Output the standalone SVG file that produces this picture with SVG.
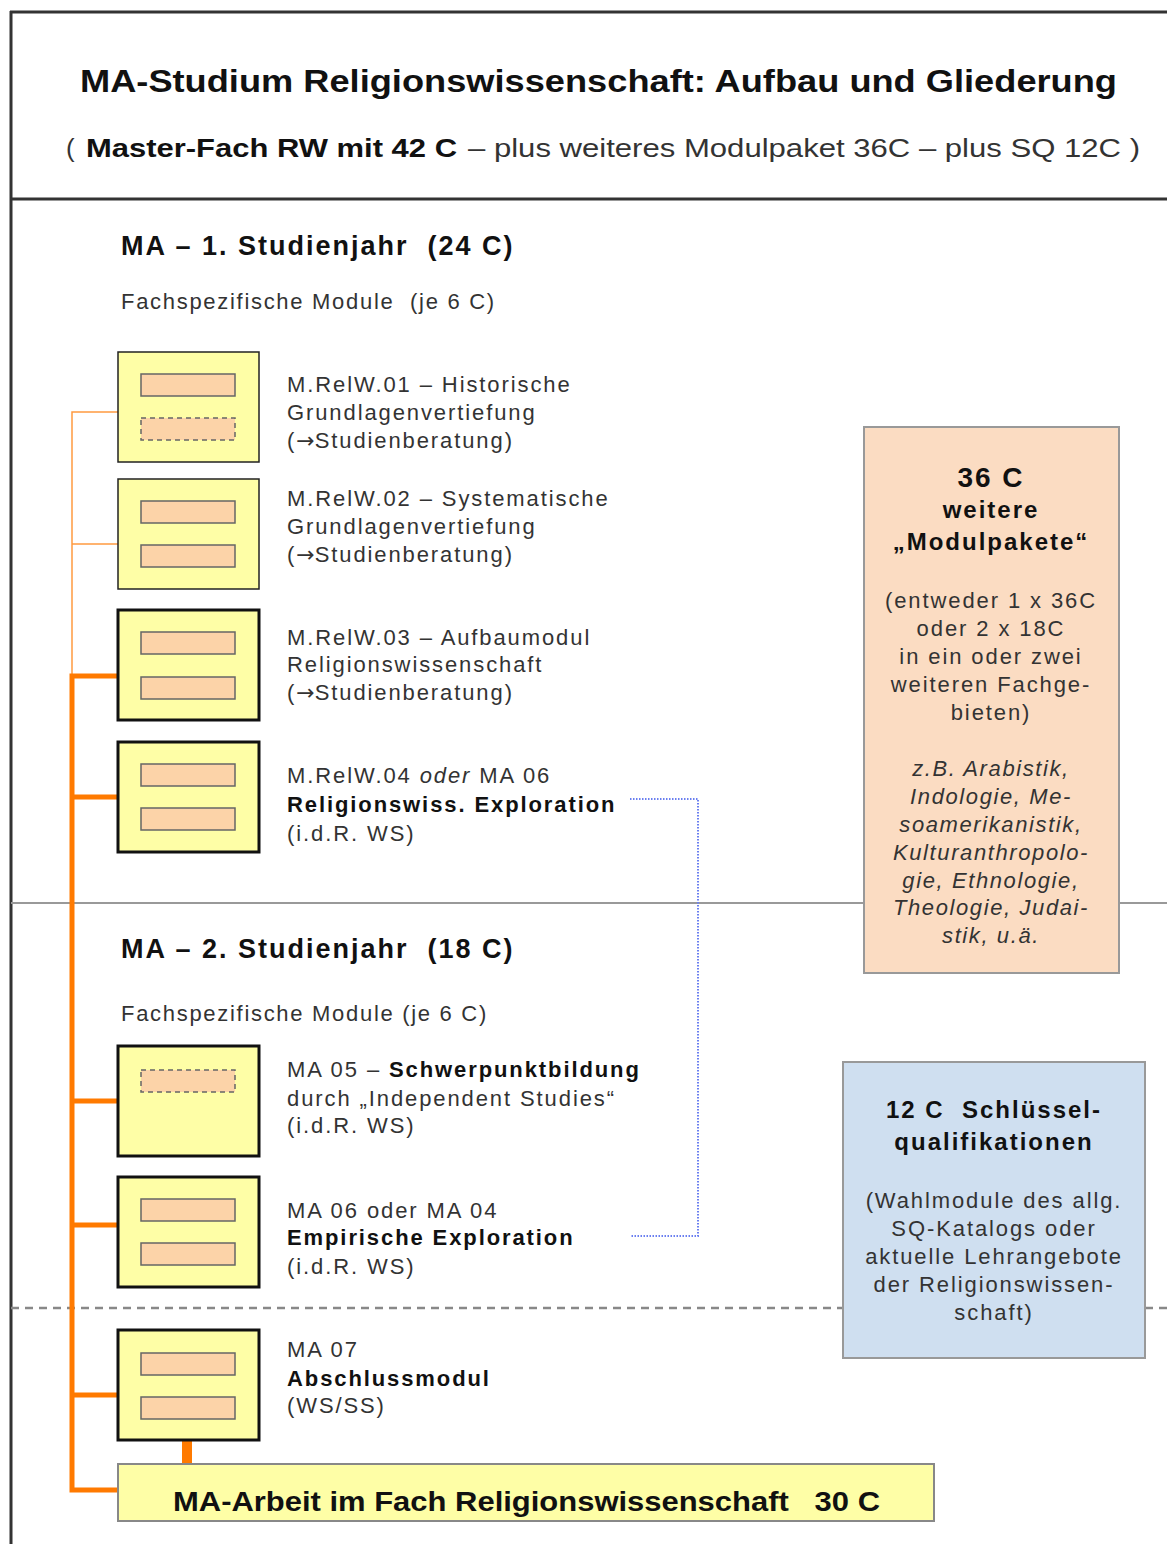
<svg xmlns="http://www.w3.org/2000/svg" width="1167" height="1544" viewBox="0 0 1167 1544">
<style>
text{font-family:"Liberation Sans",Arial,sans-serif;fill:#333}
.b{font-weight:bold;fill:#111}
.h{font-size:31px;font-weight:bold;fill:#111}
.m{font-size:22px;letter-spacing:1.9px}
.s{font-size:27px;letter-spacing:2px}
.f{font-size:22px;letter-spacing:1.7px}
.bx{font-size:22px;letter-spacing:1.9px}
.bi{font-size:22px;letter-spacing:1.6px;font-style:italic}
.bb{font-size:24px;letter-spacing:2px;font-weight:bold;fill:#111}
.ar{font-family:"DejaVu Sans",sans-serif;letter-spacing:0}
.mod{fill:#fefea6;stroke:#222;stroke-width:1.5}
.modk{fill:#fefea6;stroke:#111;stroke-width:3}
.in{fill:#fcd3a8;stroke:#666;stroke-width:1.5}
.ind{fill:#fcd3a8;stroke:#666;stroke-width:1.5;stroke-dasharray:5 4}
.c{text-anchor:middle}
</style>
<rect width="1167" height="1544" fill="#fff"/>
<g id="frame">
<line x1="10" y1="12" x2="1167" y2="12" stroke="#333" stroke-width="3"/>
<line x1="11" y1="11" x2="11" y2="1544" stroke="#333" stroke-width="3"/>
<line x1="10" y1="199" x2="1167" y2="199" stroke="#333" stroke-width="3"/>
<line x1="11" y1="903" x2="1167" y2="903" stroke="#999" stroke-width="2"/>
<line x1="11" y1="1308" x2="1167" y2="1308" stroke="#888" stroke-width="2.5" stroke-dasharray="8 6"/>
</g>
<g id="header">
<text x="80" y="92" class="h" textLength="1037" lengthAdjust="spacingAndGlyphs">MA-Studium Religionswissenschaft: Aufbau und Gliederung</text>
<text x="66" y="157" style="font-size:26px">(</text>
<text x="86" y="157" class="b" style="font-size:26px" textLength="371" lengthAdjust="spacingAndGlyphs">Master-Fach RW mit 42 C</text>
<text x="468" y="157" style="font-size:26px" textLength="672" lengthAdjust="spacingAndGlyphs">– plus weiteres Modulpaket 36C – plus SQ 12C )</text>
</g>
<g id="sec1">
<text x="121" y="255" class="b s" xml:space="preserve">MA – 1. Studienjahr  (24 C)</text>
<text x="121" y="309" class="f" xml:space="preserve">Fachspezifische Module  (je 6 C)</text>
</g>
<g id="sec2">
<text x="121" y="958" class="b s" xml:space="preserve">MA – 2. Studienjahr  (18 C)</text>
<text x="121" y="1021" class="f">Fachspezifische Module (je 6 C)</text>
</g>
<g id="connectors">
<path d="M118 412H72V676M118 544H72" fill="none" stroke="#ff9a40" stroke-width="1.5"/>
<path d="M118 676H72V1490H118M72 797H118M72 1101H118M72 1225H118M72 1395H118" fill="none" stroke="#ff7a00" stroke-width="5"/>
<line x1="187" y1="1440" x2="187" y2="1465" stroke="#ff7a00" stroke-width="10"/>
<path d="M630 799H698V1236H630" fill="none" stroke="#6a7ff0" stroke-width="2" stroke-dasharray="1.5 1.5"/>
</g>
<g id="m01">
<rect x="118" y="352" width="141" height="110" class="mod"/>
<rect x="141" y="374" width="94" height="22" class="in"/>
<rect x="141" y="418" width="94" height="22" class="ind"/>
<text class="m" x="287" y="392">M.RelW.01 – Historische</text>
<text class="m" x="287" y="420">Grundlagenvertiefung</text>
<text class="m" x="287" y="448">(<tspan class="ar">→</tspan>Studienberatung)</text>
</g>
<g id="m02">
<rect x="118" y="479" width="141" height="110" class="mod"/>
<rect x="141" y="501" width="94" height="22" class="in"/>
<rect x="141" y="545" width="94" height="22" class="in"/>
<text class="m" x="287" y="506">M.RelW.02 – Systematische</text>
<text class="m" x="287" y="534">Grundlagenvertiefung</text>
<text class="m" x="287" y="562">(<tspan class="ar">→</tspan>Studienberatung)</text>
</g>
<g id="m03">
<rect x="118" y="610" width="141" height="110" class="modk"/>
<rect x="141" y="632" width="94" height="22" class="in"/>
<rect x="141" y="677" width="94" height="22" class="in"/>
<text class="m" x="287" y="645">M.RelW.03 – Aufbaumodul</text>
<text class="m" x="287" y="672">Religionswissenschaft</text>
<text class="m" x="287" y="700">(<tspan class="ar">→</tspan>Studienberatung)</text>
</g>
<g id="m04">
<rect x="118" y="742" width="141" height="110" class="modk"/>
<rect x="141" y="764" width="94" height="22" class="in"/>
<rect x="141" y="808" width="94" height="22" class="in"/>
<text class="m" x="287" y="783">M.RelW.04 <tspan font-style="italic">oder</tspan> MA 06</text>
<text class="m b" x="287" y="812">Religionswiss. Exploration</text>
<text class="m" x="287" y="841">(i.d.R. WS)</text>
</g>
<g id="m05">
<rect x="118" y="1046" width="141" height="110" class="modk"/>
<rect x="141" y="1070" width="94" height="22" class="ind"/>
<text class="m" x="287" y="1077">MA 05 – <tspan class="b">Schwerpunktbildung</tspan></text>
<text class="m" x="287" y="1106">durch „Independent Studies“</text>
<text class="m" x="287" y="1133">(i.d.R. WS)</text>
</g>
<g id="m06">
<rect x="118" y="1177" width="141" height="110" class="modk"/>
<rect x="141" y="1199" width="94" height="22" class="in"/>
<rect x="141" y="1243" width="94" height="22" class="in"/>
<text class="m" x="287" y="1218">MA 06 oder MA 04</text>
<text class="m b" x="287" y="1245">Empirische Exploration</text>
<text class="m" x="287" y="1274">(i.d.R. WS)</text>
</g>
<g id="m07">
<rect x="118" y="1330" width="141" height="110" class="modk"/>
<rect x="141" y="1353" width="94" height="22" class="in"/>
<rect x="141" y="1397" width="94" height="22" class="in"/>
<text class="m" x="287" y="1357">MA 07</text>
<text class="m b" x="287" y="1386">Abschlussmodul</text>
<text class="m" x="287" y="1413">(WS/SS)</text>
</g>
<g id="thesis">
<rect x="118" y="1464" width="816" height="57" fill="#fefea6" stroke="#888" stroke-width="2"/>
<text x="173" y="1511" class="b" style="font-size:28px" textLength="707" lengthAdjust="spacingAndGlyphs" xml:space="preserve">MA-Arbeit im Fach Religionswissenschaft   30 C</text>
</g>
<g id="paket">
<rect x="864" y="427" width="255" height="546" fill="#fbdcc2" stroke="#999" stroke-width="2"/>
<text x="991" y="487" class="b c" style="font-size:28px;letter-spacing:2px">36 C</text>
<text x="991" y="518" class="bb c">weitere</text>
<text x="991" y="550" class="bb c">„Modulpakete“</text>
<text x="991" y="608" class="bx c">(entweder 1 x 36C</text>
<text x="991" y="636" class="bx c">oder 2 x 18C</text>
<text x="991" y="664" class="bx c">in ein oder zwei</text>
<text x="991" y="692" class="bx c">weiteren Fachge-</text>
<text x="991" y="720" class="bx c">bieten)</text>
<text x="991" y="776" class="bi c">z.B. Arabistik,</text>
<text x="991" y="804" class="bi c">Indologie, Me-</text>
<text x="991" y="832" class="bi c">soamerikanistik,</text>
<text x="991" y="860" class="bi c">Kulturanthropolo-</text>
<text x="991" y="888" class="bi c">gie, Ethnologie,</text>
<text x="991" y="915" class="bi c">Theologie, Judai-</text>
<text x="991" y="943" class="bi c">stik, u.ä.</text>
</g>
<g id="sq">
<rect x="843" y="1062" width="302" height="296" fill="#cfdff0" stroke="#999" stroke-width="2"/>
<text x="994" y="1118" class="bb c" xml:space="preserve">12 C  Schlüssel-</text>
<text x="994" y="1150" class="bb c">qualifikationen</text>
<text x="994" y="1208" class="bx c">(Wahlmodule des allg.</text>
<text x="994" y="1236" class="bx c">SQ-Katalogs oder</text>
<text x="994" y="1264" class="bx c">aktuelle Lehrangebote</text>
<text x="994" y="1292" class="bx c">der Religionswissen-</text>
<text x="994" y="1320" class="bx c">schaft)</text>
</g>
</svg>
